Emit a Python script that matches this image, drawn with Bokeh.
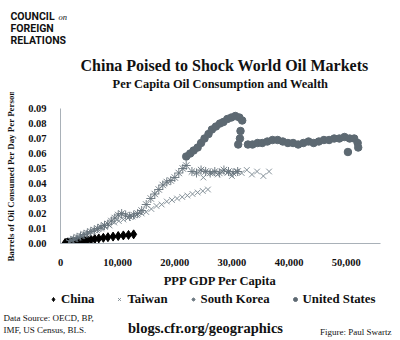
from bokeh.plotting import figure
from bokeh.layouts import column, row
from bokeh.models import (Range1d, FixedTicker, NumeralTickFormatter, Label,
                          Legend, LegendItem)
from bokeh.embed import file_html
from bokeh.resources import INLINE

# ---------------- data ----------------
china_gdp = [800, 1000, 1200, 1400, 1650, 1900, 2200, 2500, 2850, 3250, 3700,
             4200, 4750, 5350, 6000, 6700, 7500, 8300, 9200, 10100, 11000,
             11900, 12800]
china_oil = [0.0003, 0.0004, 0.0005, 0.0006, 0.0007, 0.0008, 0.0010, 0.0011,
             0.0013, 0.0015, 0.0017, 0.0020, 0.0023, 0.0026, 0.0030, 0.0034,
             0.0038, 0.0042, 0.0046, 0.0050, 0.0054, 0.0057, 0.0061]

taiwan_gdp = [1500, 2000, 2600, 3200, 3800, 4400, 5000, 5700, 6400, 7100, 7800,
              8600, 9400, 10200, 11000, 11800, 12600, 13400, 14200, 15000,
              15900, 16800, 17700, 18600, 19500, 20400, 21300, 22200, 23100,
              24000, 24900, 25800, 25000, 26500, 27500, 28300, 29200, 30000,
              30800, 31700, 32600, 33500, 34400, 35500, 36500]
taiwan_oil = [0.001, 0.002, 0.003, 0.004, 0.005, 0.006, 0.007, 0.008, 0.009,
              0.010, 0.011, 0.012, 0.014, 0.015, 0.016, 0.017, 0.018, 0.019,
              0.020, 0.021, 0.023, 0.025, 0.026, 0.028, 0.029, 0.030, 0.031,
              0.032, 0.033, 0.034, 0.035, 0.036, 0.044, 0.047, 0.046, 0.048,
              0.047, 0.045, 0.048, 0.047, 0.049, 0.046, 0.048, 0.045, 0.048]

korea_gdp = [1800, 2300, 2900, 3500, 4100, 4700, 5300, 5900, 6500, 7100, 7700,
             8300, 8900, 9500, 10100, 10700, 11400, 12100, 12800, 13500, 14200,
             15000, 15800, 16500, 17200, 17900, 18600, 19300, 20000, 20700,
             21400, 22000, 23000, 23800, 24600, 25400, 26200, 27000, 27800,
             28600, 29400, 30200, 31000]
korea_oil = [0.002, 0.003, 0.004, 0.005, 0.006, 0.007, 0.008, 0.009, 0.010,
             0.011, 0.012, 0.013, 0.015, 0.017, 0.019, 0.020, 0.019, 0.018,
             0.019, 0.020, 0.022, 0.026, 0.030, 0.033, 0.036, 0.039, 0.041,
             0.042, 0.044, 0.047, 0.050, 0.052, 0.048, 0.047, 0.049, 0.048,
             0.047, 0.048, 0.047, 0.049, 0.048, 0.047, 0.048]

us_gdp = [22000, 22700, 23300, 24000, 24600, 25200, 25900, 26500, 27200, 27900,
          28500, 29200, 29900, 30600, 31300, 31800, 31500, 31400, 31100, 32800,
          33600, 34500, 35300, 36200, 37100, 38000, 38900, 39800, 40700, 41600,
          42500, 43400, 44300, 45200, 46100, 47000, 47900, 48800, 49700, 50600,
          51400, 52000, 50300, 52100]
us_oil = [0.058, 0.060, 0.062, 0.064, 0.067, 0.070, 0.073, 0.076, 0.078, 0.080,
          0.081, 0.083, 0.084, 0.085, 0.084, 0.082, 0.075, 0.070, 0.066, 0.066,
          0.066, 0.067, 0.067, 0.068, 0.069, 0.069, 0.068, 0.067, 0.067, 0.066,
          0.067, 0.068, 0.067, 0.068, 0.069, 0.069, 0.070, 0.070, 0.071, 0.070,
          0.070, 0.067, 0.061, 0.064]

x_ticks = [0, 10000, 20000, 30000, 40000, 50000]
y_ticks = [0.00, 0.01, 0.02, 0.03, 0.04, 0.05, 0.06, 0.07, 0.08, 0.09]

series_names = ["China", "Taiwan", "South Korea", "United States"]
title_text = "China Poised to Shock World Oil Markets"
subtitle_text = "Per Capita Oil Consumption and Wealth"
x_label = "PPP GDP Per Capita"
y_label = "Barrels of Oil Consumed Per Day Per Person"

# ---------------- layout ----------------
W = 400
H_HEAD, H_MAIN, H_FOOT = 92, 198, 50
XMAX, YMAX = 56000, 0.09
SERIF = "Liberation Serif"
TXT = "#111111"

STY_CHINA = dict(marker="diamond", size=9, fill_color="black", line_color="black")
STY_TAIWAN = dict(marker="x", size=8, line_color="#76838c", line_width=0.9)
STY_KOREA = dict(marker="asterisk", size=9, line_color="#65727b", line_width=0.9)
STY_US = dict(marker="circle", size=7.5, fill_color="#5d6972", line_color="#5d6972")


def blank(height, y0):
    f = figure(width=W, height=height, output_backend="svg",
               toolbar_location=None, x_axis_type=None, y_axis_type=None,
               x_range=Range1d(0, W), y_range=Range1d(y0 + height, y0),
               min_border=0, min_border_left=0, min_border_right=0)
    f.outline_line_color = None
    f.grid.visible = False
    f.background_fill_color = "white"
    f.border_fill_color = "white"
    return f


def lab(f, text, px, py, size, font=SERIF, style="normal", align="left",
        baseline="middle", color=TXT):
    f.add_layout(Label(x=px, y=py, text=text, text_font=font,
                       text_font_style=style, text_font_size=size,
                       text_align=align, text_baseline=baseline,
                       text_color=color))


# ---- header ----
head = blank(H_HEAD, 0)
lab(head, "COUNCIL", 10, 15.5, "10.5px", font="Roboto", style="bold")
lab(head, "on", 58, 16.5, "8.5px", style="italic")
lab(head, "FOREIGN", 10, 27.5, "10.5px", font="Roboto", style="bold")
lab(head, "RELATIONS", 10, 40, "10.5px", font="Roboto", style="bold")
lab(head, title_text, 224, 65, "16px", style="bold", align="center")
lab(head, subtitle_text, 220, 83, "12.4px", style="bold", align="center")

# ---- main chart ----
p = figure(width=W, height=H_MAIN, output_backend="svg", toolbar_location=None,
           x_range=Range1d(0, XMAX), y_range=Range1d(0, YMAX),
           min_border_left=60, min_border_right=20,
           min_border_top=16, min_border_bottom=47)
p.outline_line_color = None
p.grid.visible = False
p.background_fill_color = "white"
p.border_fill_color = "white"

axis_col = "#a9b1b8"
for ax in (p.xaxis[0], p.yaxis[0]):
    ax.axis_line_color = axis_col
    ax.major_tick_line_color = None
    ax.minor_tick_line_color = None
    ax.major_label_text_font = SERIF
    ax.major_label_text_font_style = "bold"
    ax.major_label_text_font_size = "10.5px"
    ax.major_label_text_color = TXT
    ax.axis_label_text_font = SERIF
    ax.axis_label_text_font_style = "bold"
    ax.axis_label_text_color = TXT

p.xaxis.ticker = FixedTicker(ticks=x_ticks)
p.xaxis.formatter = NumeralTickFormatter(format="0,0")
p.xaxis.major_label_standoff = 9
p.xaxis.axis_label = x_label
p.xaxis.axis_label_text_font_size = "12.5px"
p.xaxis.axis_label_standoff = 5

p.yaxis.ticker = FixedTicker(ticks=y_ticks)
p.yaxis.formatter = NumeralTickFormatter(format="0.00")
p.yaxis.major_label_standoff = 8
p.yaxis.axis_label = y_label
p.yaxis.axis_label_text_font_size = "8.9px"
p.yaxis.axis_label_standoff = 9

p.scatter(china_gdp, china_oil, **STY_CHINA)
p.scatter(taiwan_gdp, taiwan_oil, **STY_TAIWAN)
p.scatter(korea_gdp, korea_oil, **STY_KOREA)
p.scatter(us_gdp, us_oil, **STY_US)

# ---- footer (legend + credits) ----
foot = blank(H_FOOT, H_HEAD + H_MAIN)
nan = float("nan")
leg_r = [foot.scatter(x=[nan], y=[nan], **s)
         for s in (STY_CHINA, STY_TAIWAN, STY_KOREA, STY_US)]
legend = Legend(items=[LegendItem(label=n, renderers=[r])
                       for n, r in zip(series_names, leg_r)],
                orientation="horizontal", location=(48, 33),
                border_line_color=None, background_fill_alpha=0,
                label_text_font=SERIF, label_text_font_style="bold",
                label_text_font_size="12.8px", label_text_color=TXT,
                glyph_width=10, glyph_height=16, label_standoff=3,
                spacing=20, padding=0, margin=0)
foot.add_layout(legend, "center")

lab(foot, "Data Source: OECD, BP,", 3, 317, "9px")
lab(foot, "IMF, US Census, BLS.", 3, 329, "9px")
lab(foot, "blogs.cfr.org/geographics", 205, 327, "14.5px", style="bold",
    align="center")
lab(foot, "Figure: Paul Swartz", 391, 331, "9px", align="right")

layout = column(row(head), p, row(foot), spacing=0)
open("out.html", "w").write(file_html(layout, INLINE))
